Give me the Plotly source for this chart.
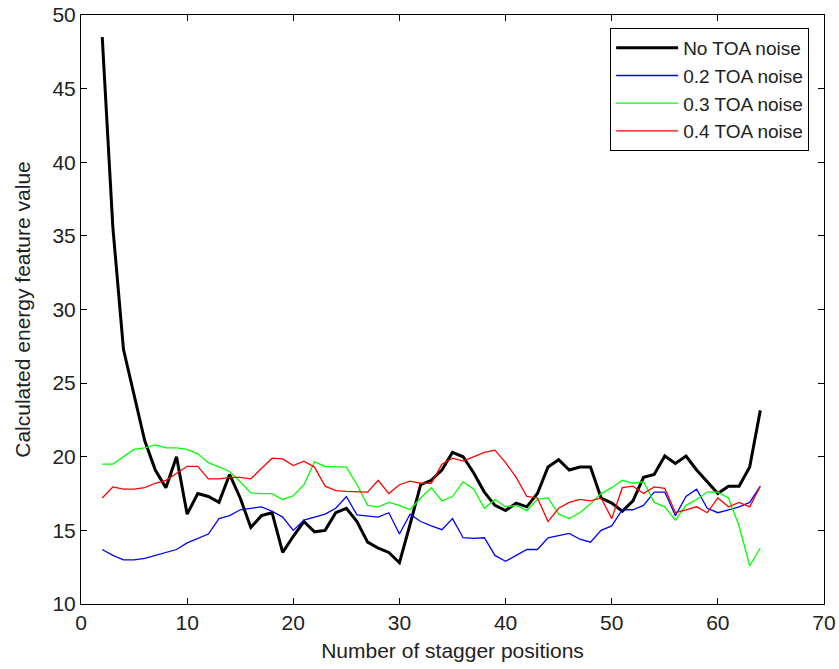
import plotly.graph_objects as go

x_vals = list(range(2, 65))

no_noise = [48.5, 35.6, 27.3, 24.3, 21.1, 19.1, 17.9, 20.0, 16.1, 17.5,
            17.3, 16.9, 18.8, 17.2, 15.2, 16.0, 16.2, 13.5, 14.6, 15.6,
            14.9, 15.0, 16.2, 16.5, 15.6, 14.2, 13.8, 13.5, 12.8, 15.4,
            18.1, 18.4, 19.1, 20.3, 20.0, 18.9, 17.6, 16.7, 16.35, 16.85,
            16.6, 17.5, 19.3, 19.8, 19.1, 19.3, 19.3, 17.2, 16.85, 16.3,
            17.0, 18.6, 18.8, 20.05, 19.55, 20.05, 19.1, 18.3, 17.5, 18.0,
            18.0, 19.3, 23.15]

noise_02 = [13.7, 13.3, 13.0, 13.0, 13.1, 13.3, 13.45, 13.7, 14.15, 14.45,
            14.75, 15.8, 16.0, 16.4, 16.5, 16.6, 16.3, 15.9, 15.0, 15.7,
            15.9, 16.1, 16.5, 17.3, 16.05, 15.95, 15.9, 16.2, 14.75, 16.1,
            15.6, 15.3, 15.05, 15.8, 14.5, 14.45, 14.5, 13.3, 12.9, 13.3,
            13.7, 13.7, 14.5, 14.65, 14.8, 14.4, 14.2, 15.0, 15.3, 16.4,
            16.4, 16.7, 17.6, 17.6, 16.0, 17.3, 17.8, 16.5, 16.2, 16.4,
            16.6, 16.9, 18.0]

noise_03 = [19.5, 19.5, 20.0, 20.5, 20.6, 20.8, 20.6, 20.6, 20.5, 20.2,
            19.6, 19.3, 19.0, 18.3, 17.55, 17.5, 17.5, 17.1, 17.35, 18.1,
            19.65, 19.35, 19.3, 19.3, 18.1, 16.7, 16.6, 16.9, 16.7, 16.4,
            17.2, 17.9, 17.0, 17.3, 18.3, 17.8, 16.5, 17.1, 16.6, 16.7,
            16.35, 17.1, 17.2, 16.1, 15.8, 16.2, 16.8, 17.5, 17.9, 18.4,
            18.2, 18.3, 16.9, 16.6, 15.7, 16.7, 17.1, 17.6, 17.6, 17.2,
            15.3, 12.6, 13.8]

noise_04 = [17.2, 17.95, 17.8, 17.8, 17.9, 18.2, 18.4, 18.9, 19.35, 19.35,
            18.5, 18.5, 18.6, 18.6, 18.5, 19.2, 19.9, 19.85, 19.4, 19.7,
            19.3, 18.0, 17.7, 17.65, 17.6, 17.6, 18.4, 17.5, 18.1, 18.35,
            18.2, 18.2, 19.5, 19.9, 19.7, 20.0, 20.3, 20.45, 19.6, 18.6,
            17.3, 17.2, 15.6, 16.5, 16.9, 17.1, 17.0, 17.2, 15.8, 17.9,
            18.0, 17.5, 17.95, 17.85, 16.2, 16.4, 16.6, 16.2, 17.2, 16.6,
            16.9, 16.6, 18.0]

series = [
    ("No TOA noise", no_noise, "#000000", 3),
    ("0.2 TOA noise", noise_02, "#0000ff", 1.3),
    ("0.3 TOA noise", noise_03, "#00ff00", 1.3),
    ("0.4 TOA noise", noise_04, "#ff0000", 1.3),
]

x_ticks = [0, 10, 20, 30, 40, 50, 60, 70]
y_ticks = [10, 15, 20, 25, 30, 35, 40, 45, 50]

fig = go.Figure()
for name, vals, color, w in series:
    fig.add_trace(go.Scatter(x=x_vals, y=vals, mode="lines", name=name,
                             line=dict(color=color, width=w)))

font_family = "Liberation Sans, Arial, sans-serif"
axis_common = dict(showline=True, linecolor="black", linewidth=1, mirror="ticks",
                   ticks="inside", ticklen=6, tickcolor="black", tickwidth=1,
                   showgrid=False, zeroline=False, automargin=False,
                   tickfont=dict(family=font_family, size=21, color="#222222"))

fig.update_layout(
    width=839, height=669,
    margin=dict(l=81, r=15, t=15, b=65),
    paper_bgcolor="white", plot_bgcolor="white",
    font=dict(family=font_family, size=21, color="#222222"),
    xaxis=dict(range=[0, 70], tickvals=x_ticks,
               title=dict(text="Number of stagger positions", standoff=10,
                          font=dict(family=font_family, size=21)),
               **axis_common),
    yaxis=dict(range=[10, 50], tickvals=y_ticks,
               title=dict(text="Calculated energy feature value", standoff=16,
                          font=dict(family=font_family, size=21)),
               **axis_common),
    legend=dict(x=0.98, y=0.978, xanchor="right", yanchor="top",
                bordercolor="black", borderwidth=1, bgcolor="white",
                tracegroupgap=0, itemwidth=62,
                font=dict(family=font_family, size=19, color="#222222")),
    showlegend=True,
)

fig.write_html("out.html")
